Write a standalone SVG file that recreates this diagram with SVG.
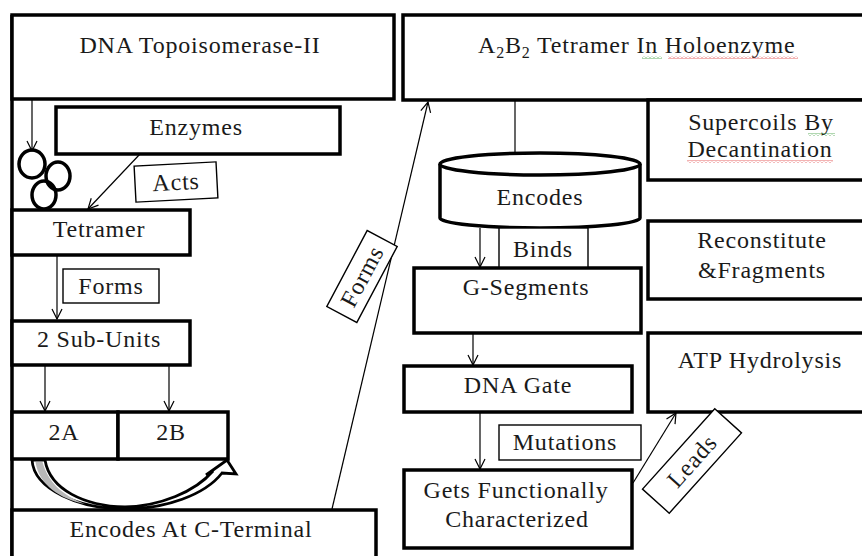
<svg xmlns="http://www.w3.org/2000/svg" width="862" height="556" viewBox="0 0 862 556">
<style>
.box{fill:#fff;stroke:#000;stroke-width:3.5}
.lbl{fill:#fff;stroke:#000;stroke-width:1.4}
.t{font-family:"Liberation Serif","Times New Roman",serif;font-size:24px;letter-spacing:0.8px;fill:#1a1a1a;text-anchor:middle}
.c{fill:none;stroke:#000;stroke-width:1.2}
</style>
<defs>
<marker id="ah" viewBox="0 0 12 12" refX="11" refY="6" markerWidth="12" markerHeight="12" markerUnits="userSpaceOnUse" orient="auto">
<path d="M1,1 L11,6 L1,11" fill="none" stroke="#000" stroke-width="1.2"/>
</marker>
<pattern id="sqR" width="4" height="3" patternUnits="userSpaceOnUse"><path d="M0,2.5 L2,0.5 L4,2.5" fill="none" stroke="#e04040" stroke-width="0.8"/></pattern>
<pattern id="sqG" width="4" height="3" patternUnits="userSpaceOnUse"><path d="M0,2.5 L2,0.5 L4,2.5" fill="none" stroke="#3a9a3a" stroke-width="0.8"/></pattern>
</defs>
<rect width="862" height="556" fill="#fff"/>

<g id="frame"><line x1="12" y1="15" x2="12" y2="556" stroke="#000" stroke-width="3.5"/></g>

<g id="topo"><rect class="box" x="12" y="15" width="382" height="84"/><text class="t" x="200" y="53">DNA Topoisomerase-II</text></g>

<g id="holo"><rect class="box" x="403" y="15" width="466" height="85"/>
<text class="t" x="478" y="53" style="text-anchor:start">A<tspan font-size="16" dy="5">2</tspan><tspan dy="-5">B</tspan><tspan font-size="16" dy="5">2</tspan><tspan dy="-5"> Tetramer In Holoenzyme</tspan></text>
<rect x="642" y="56" width="20" height="3" fill="url(#sqG)"/><rect x="668" y="56" width="130" height="3" fill="url(#sqR)"/></g>

<g id="supercoils"><rect class="box" x="648" y="100" width="221" height="80"/><text class="t" x="761" y="130">Supercoils By</text><text class="t" x="760" y="157">Decantination</text>
<rect x="808" y="133" width="27" height="3" fill="url(#sqG)"/><rect x="687" y="160" width="146" height="3" fill="url(#sqR)"/></g>

<g id="enzymes"><rect class="box" x="56" y="107" width="284" height="47"/><text class="t" x="196" y="135">Enzymes</text></g>

<g id="circles" fill="none" stroke="#000" stroke-width="3.5">
<ellipse cx="58" cy="176" rx="12" ry="14"/>
<ellipse cx="44" cy="195" rx="12" ry="14"/>
<ellipse cx="32" cy="164" rx="13" ry="14"/>
</g>

<g id="tetramer"><rect class="box" x="12" y="210" width="178" height="45"/><text class="t" x="99" y="237">Tetramer</text></g>
<g id="subunits"><rect class="box" x="12" y="321" width="178" height="44"/><text class="t" x="99" y="347">2 Sub-Units</text></g>
<g id="u2a"><rect class="box" x="12" y="412" width="106" height="47"/><text class="t" x="64" y="440">2A</text></g>
<g id="u2b"><rect class="box" x="118" y="412" width="110" height="47"/><text class="t" x="171" y="440">2B</text></g>
<g id="cterm"><rect class="box" x="12" y="510" width="364" height="52"/><text class="t" x="191" y="537">Encodes At C-Terminal</text></g>

<g id="encodes">
<path class="box" d="M440,164 L440,218 A100,10 0 0 0 640,218 L640,164"/>
<ellipse class="box" cx="540" cy="164" rx="100" ry="11"/>
<text class="t" x="540" y="205">Encodes</text></g>

<g id="gseg"><rect class="box" x="414" y="268" width="227" height="65"/><text class="t" x="526" y="295">G-Segments</text></g>
<g id="reconst"><rect class="box" x="648" y="221" width="221" height="78"/><text class="t" x="762" y="248">Reconstitute</text><text class="t" x="762" y="278">&amp;Fragments</text></g>
<g id="atp"><rect class="box" x="648" y="333" width="221" height="79"/><text class="t" x="760" y="368">ATP Hydrolysis</text></g>
<g id="dnagate"><rect class="box" x="404" y="366" width="228" height="46"/><text class="t" x="518" y="393">DNA Gate</text></g>
<g id="gets"><rect class="box" x="404" y="470" width="228" height="78"/><text class="t" x="516" y="498">Gets Functionally</text><text class="t" x="517" y="527">Characterized</text></g>

<g id="connectors">
<line class="c" x1="32" y1="99" x2="32" y2="151" marker-end="url(#ah)"/>
<line class="c" x1="140" y1="154" x2="88" y2="209" marker-end="url(#ah)"/>
<line class="c" x1="57" y1="255" x2="57" y2="319" marker-end="url(#ah)"/>
<line class="c" x1="45" y1="365" x2="45" y2="411" marker-end="url(#ah)"/>
<line class="c" x1="169" y1="365" x2="169" y2="411" marker-end="url(#ah)"/>
<line class="c" x1="332" y1="509" x2="428" y2="102" marker-end="url(#ah)"/>
<line class="c" x1="515" y1="100" x2="515" y2="153"/>
<line class="c" x1="480" y1="228" x2="480" y2="267" marker-end="url(#ah)"/>
<line class="c" x1="473" y1="333" x2="473" y2="365" marker-end="url(#ah)"/>
<line class="c" x1="480" y1="412" x2="480" y2="469" marker-end="url(#ah)"/>
<line class="c" x1="633" y1="483" x2="676" y2="413" marker-end="url(#ah)"/>
<path d="M32,460 C34,490 80,509 125,509 C165,509 205,495 222,473 L236,474 L227,460 L206,475 L213,471 C195,492 160,506 125,507 C85,506 50,490 45,460 Z" fill="#fff" stroke="#000" stroke-width="2.8" stroke-linejoin="miter"/>
<path d="M35.5,462 C39,485 60,499 85,504 C62,495 48,482 42.5,462 Z" fill="#b8b8b8"/>
</g>

<g id="lbl-acts" transform="translate(176,182) rotate(-3)"><rect class="lbl" x="-41" y="-18" width="82" height="36"/><text class="t" x="0" y="8">Acts</text></g>
<g id="lbl-forms1"><rect class="lbl" x="63" y="269" width="96" height="34"/><text class="t" x="111" y="294">Forms</text></g>
<g id="lbl-forms2" transform="translate(362,276.5) rotate(-62)"><rect class="lbl" x="-43" y="-17" width="86" height="34"/><text class="t" x="0" y="8">Forms</text></g>
<g id="lbl-binds"><rect class="lbl" x="499" y="228" width="89" height="39"/><text class="t" x="543" y="257">Binds</text></g>
<g id="lbl-mut"><rect class="lbl" x="499" y="425" width="142" height="35"/><text class="t" x="565" y="450">Mutations</text></g>
<g id="lbl-leads" transform="translate(692,461) rotate(-48)"><rect class="lbl" x="-54" y="-18" width="108" height="36"/><text class="t" x="0" y="8">Leads</text></g>
</svg>
